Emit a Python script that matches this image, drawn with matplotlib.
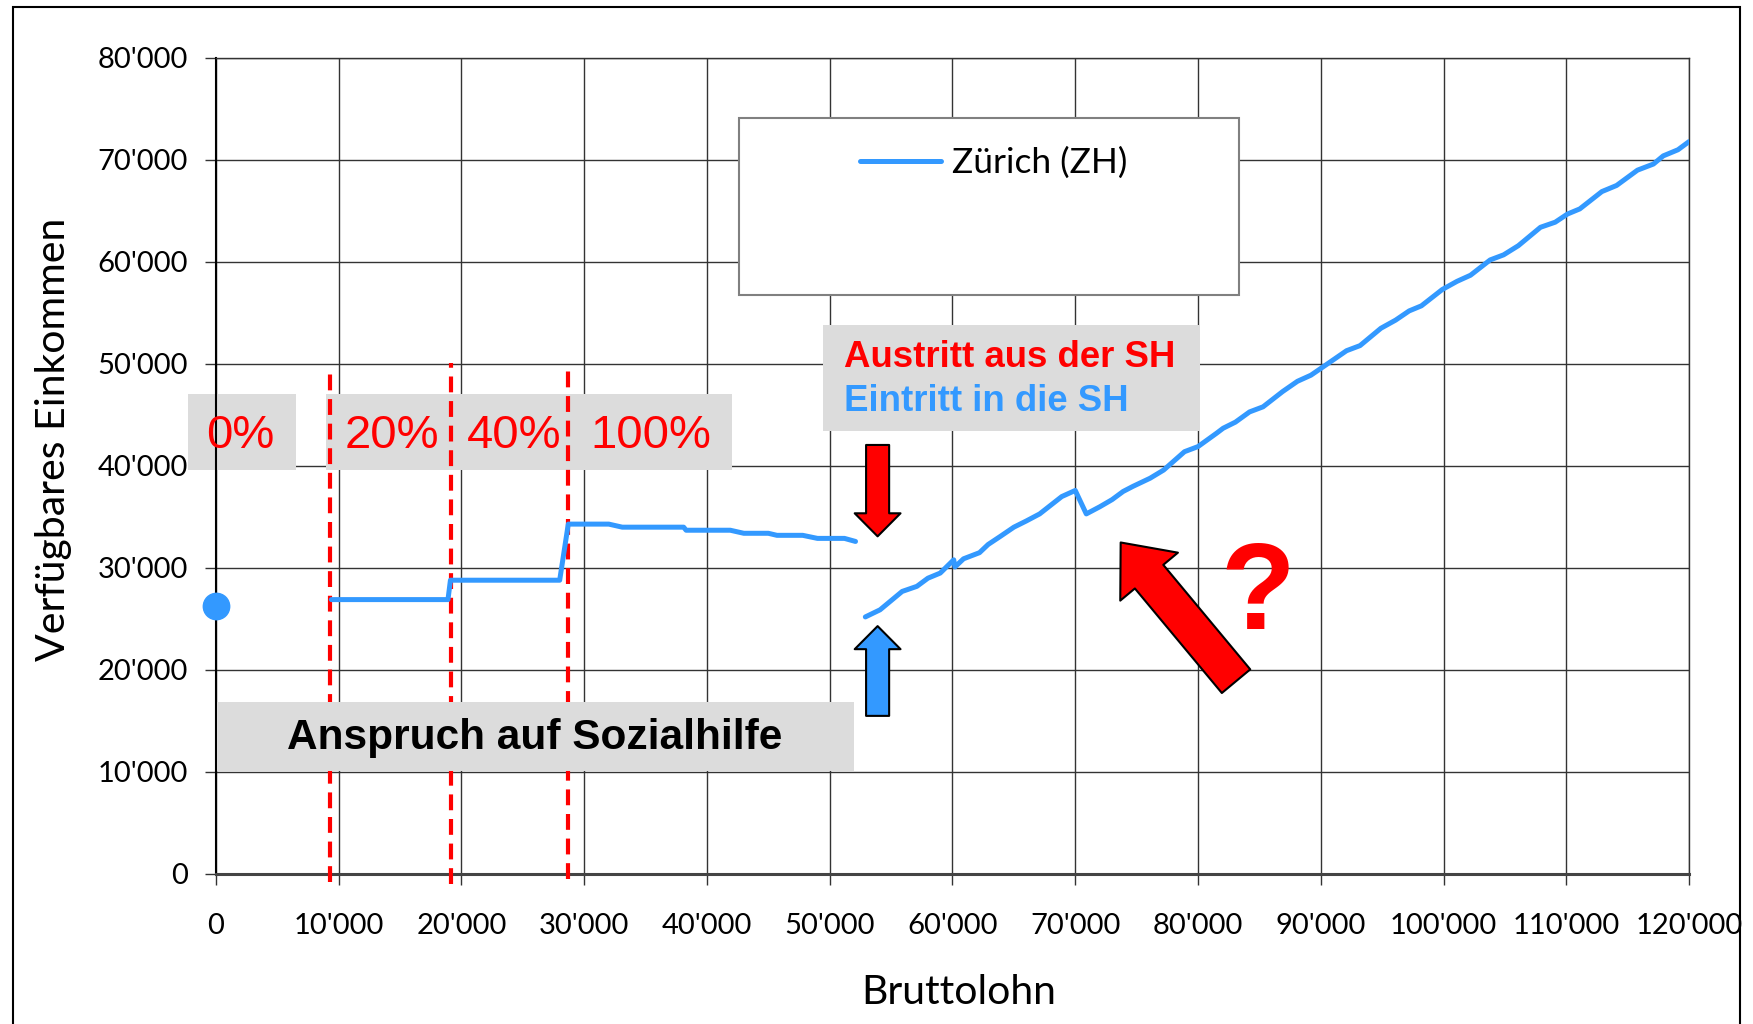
import numpy as np
import matplotlib
matplotlib.use('Agg')
import matplotlib.pyplot as plt
from matplotlib.patches import Rectangle, FancyArrowPatch
from matplotlib.ticker import FuncFormatter

# Bruttolohn / verfuegbares Einkommen, Zuerich (ZH)
lohn_0 = [0]
eink_0 = [26300]

lohn_sh = [9400, 18900, 19100, 28000, 28700, 32000, 33100, 38100, 38300, 41900,
           43000, 45000, 45700, 47800, 49000, 51200, 52100]
eink_sh = [26900, 26900, 28800, 28800, 34300, 34300, 34000, 34000, 33700, 33700,
           33400, 33400, 33200, 33200, 32900, 32900, 32600]

lohn_ohne = [52900, 54100, 55900, 57100, 58000, 59000, 60100, 60200, 60900, 62200,
             62900, 63900, 65000, 66000, 67100, 68900, 70000, 70900, 72000, 73000,
             73900, 74700, 76100, 77200, 78900, 80000, 81500, 82050, 83050, 84200,
             85300, 86900, 88100, 89200, 90050, 92100, 93200, 94900, 96100, 97200,
             98200, 99900, 101100, 102200, 103800, 104900, 106100, 107900, 109100, 110100,
             111100, 112900, 114100, 115800, 117100, 117900, 119100, 120000]
eink_ohne = [25200, 25900, 27700, 28200, 29000, 29500, 30800, 30100, 30900, 31500,
             32300, 33100, 34000, 34600, 35300, 37000, 37600, 35300, 36000, 36700,
             37500, 38000, 38800, 39600, 41400, 41900, 43200, 43700, 44300, 45300,
             45800, 47300, 48300, 48900, 49600, 51300, 51800, 53500, 54300, 55200,
             55700, 57300, 58100, 58700, 60200, 60700, 61600, 63400, 63900, 64700,
             65200, 66900, 67500, 69000, 69600, 70400, 71000, 71800]

# Freibetragsgrenzen
grenze_x = [9300, 19150, 28650]
grenze_oben = [49600, 50100, 50100]
grenze_unten = [-800, -1000, -500]
freibetrag = ['0%', '20%', '40%', '100%']
freibetrag_x = [2000, 14300, 24300, 35400]

blau = '#3399FF'
grau = '#DCDCDC'

fig = plt.figure(figsize=(17.53, 10.24), dpi=100)
ax = fig.add_axes([0.1232, 0.1465, 0.8403, 0.7969])

lohn = np.concatenate([lohn_sh, [np.nan], lohn_ohne])
eink = np.concatenate([eink_sh, [np.nan], eink_ohne])
ax.plot(lohn, eink, color=blau, lw=3.6, solid_capstyle='round', zorder=4, label='Zürich (ZH)')
ax.plot(lohn_0, eink_0, 'o', color=blau, ms=19, clip_on=False, zorder=4)

ax.set_xlim(0, 120000)
ax.set_ylim(0, 80000)
ax.set_xticks(np.arange(0, 120001, 10000))
ax.set_yticks(np.arange(0, 80001, 10000))
fmt = FuncFormatter(lambda v, p: f"{int(v):,}".replace(',', "'"))
ax.xaxis.set_major_formatter(fmt)
ax.yaxis.set_major_formatter(fmt)
ax.grid(True, color='#333333', lw=1.0)
ax.set_axisbelow(True)
for s in ['top', 'right']:
    ax.spines[s].set_linewidth(1.0)
    ax.spines[s].set_color('#333333')
ax.spines['left'].set_linewidth(1.5)
ax.spines['bottom'].set_linewidth(2.2)
ax.spines['bottom'].set_color('#444444')
ax.tick_params(direction='out', length=8, width=1, color='#333333', labelsize=21)
ax.tick_params(axis='x', pad=20)
ax.tick_params(axis='y', pad=12)
for lab in ax.get_xticklabels() + ax.get_yticklabels():
    lab.set_family('Lato')

ax.set_xlabel('Bruttolohn', fontsize=29.5, family='Lato')
ax.set_ylabel('Verfügbares Einkommen', fontsize=29.5, family='Lato')
ax.xaxis.set_label_coords(0.504, -0.122)
ax.yaxis.set_label_coords(-0.098, 0.533)

# Legende
ax.add_patch(Rectangle((42600, 56800), 40700, 17300, fc='white', ec='#808080', lw=1.5, zorder=3))
leg = ax.legend(loc='center left', bbox_to_anchor=(0.437, 0.871), frameon=False,
                borderpad=0, borderaxespad=0, handlelength=2.3, handletextpad=0.3,
                prop={'family': 'Lato', 'size': 25.5})

# graue Kaesten
ax.add_patch(Rectangle((-2280, 39600), 8780, 7500, fc=grau, ec='none', zorder=2, clip_on=False))
ax.add_patch(Rectangle((8960, 39600), 33040, 7500, fc=grau, ec='none', zorder=2))
ax.add_patch(Rectangle((80, 10050), 51920, 6850, fc=grau, ec='none', zorder=3.5))
ax.add_patch(Rectangle((49450, 43400), 30750, 10400, fc=grau, ec='none', zorder=2))

for x, yo, yu in zip(grenze_x, grenze_oben, grenze_unten):
    ax.plot([x, x], [yu, yo], color='red', lw=3, dashes=(3.8, 2.1), clip_on=False, zorder=3)

for t, x in zip(freibetrag, freibetrag_x):
    ax.text(x, 42900, t, color='red', fontsize=34, family='Liberation Sans',
            ha='center', va='center', zorder=5)

ax.text(26000, 13300, 'Anspruch auf Sozialhilfe', fontsize=30.5, fontweight='bold',
        family='Liberation Sans', ha='center', va='center', zorder=5)
ax.text(51200, 50600, 'Austritt aus der SH', fontsize=26.4, fontweight='bold', color='red',
        family='Liberation Sans', ha='left', va='center', zorder=5)
ax.text(51200, 46300, 'Eintritt in die SH', fontsize=26.4, fontweight='bold', color=blau,
        family='Liberation Sans', ha='left', va='center', zorder=5)

# Pfeile
def pfeil(tail, tip, fc, tw, hw, hl):
    p = FancyArrowPatch(tail, tip, arrowstyle=f'simple,head_width={hw},head_length={hl},tail_width={tw}',
                        mutation_scale=1, fc=fc, ec='black', lw=1.5, shrinkA=0, shrinkB=0,
                        clip_on=False, zorder=6)
    ax.add_patch(p)

pfeil((53900, 42060), (53900, 33100), 'red', 16.6, 33, 16.6)
pfeil((53900, 15500), (53900, 24300), blau, 16.6, 33, 16.6)
pfeil((83100, 18900), (73700, 32500), 'red', 26.6, 54, 32)

ax.text(84900, 27200, '?', color='red', fontsize=88, fontweight='bold',
        family='Liberation Sans', ha='center', va='center', zorder=5)

fig.add_artist(Rectangle((13 / 1753, -0.01), (1740 - 13) / 1753, 1.01 - 7 / 1024,
                         transform=fig.transFigure, fill=False, lw=1.5, ec='black'))

fig.savefig('out.png', dpi=100)
